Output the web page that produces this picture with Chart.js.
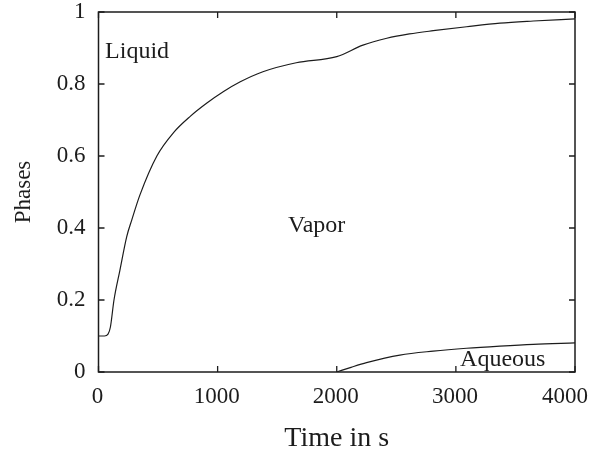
<!DOCTYPE html>
<html>
<head>
<meta charset="utf-8">
<script src="https://cdn.jsdelivr.net/npm/chart.js@4/dist/chart.umd.min.js"></script>
<style>
  html, body { margin: 0; padding: 0; background: #fff; }
  #wrap { width: 593px; height: 455px; }
</style>
</head>
<body>
<div id="wrap"><canvas id="phases"></canvas></div>
<script>
// time in seconds and phase fractions
const liquidTimes = [0, 50, 80, 100, 130, 180, 237, 279, 348, 490, 630, 770, 910, 1050, 1190, 1380, 1660, 2000, 2220, 2420, 2610, 2810, 3090, 3370, 3650, 4000];
const liquidValues = [0.1, 0.1, 0.105, 0.125, 0.2, 0.283, 0.376, 0.422, 0.492, 0.6, 0.665, 0.71, 0.747, 0.779, 0.806, 0.834, 0.859, 0.876, 0.908, 0.927, 0.939, 0.948, 0.959, 0.969, 0.975, 0.981];
// aqueous phase stays at zero (on the x axis) until 2000 s
const aqueousTimes = [2000, 2120, 2250, 2530, 2810, 3090, 3370, 3650, 4000];
const aqueousValues = [0, 0.013, 0.026, 0.047, 0.058, 0.066, 0.072, 0.077, 0.081];
const xTicks = [0, 1000, 2000, 3000, 4000];
const yTicks = [0, 0.2, 0.4, 0.6, 0.8, 1];
const phaseNames = ['Liquid', 'Vapor', 'Aqueous'];

const ink = '#1c1c1c';
const serif = 'Liberation Serif, "DejaVu Serif", serif';

const toPoints = (xs, ys) => xs.map((x, i) => ({ x: x, y: ys[i] }));

// gnuplot-like frame with inward ticks on all four sides, x labels and phase labels
const framePlugin = {
  id: 'frame',
  afterDatasetsDraw(chart) {
    const { ctx, chartArea: a, scales: { x, y }, width } = chart;
    ctx.save();
    ctx.strokeStyle = ink;
    ctx.lineWidth = 1.3;
    ctx.beginPath();
    xTicks.forEach(v => {
      const px = x.getPixelForValue(v);
      ctx.moveTo(px, a.bottom); ctx.lineTo(px, a.bottom - 6);
      ctx.moveTo(px, a.top); ctx.lineTo(px, a.top + 6);
    });
    yTicks.forEach(v => {
      const py = y.getPixelForValue(v);
      ctx.moveTo(a.left, py); ctx.lineTo(a.left + 6, py);
      ctx.moveTo(a.right, py); ctx.lineTo(a.right - 6, py);
    });
    ctx.stroke();
    ctx.lineWidth = 1.5;
    ctx.strokeRect(a.left, a.top, a.right - a.left, a.bottom - a.top);

    ctx.fillStyle = ink;
    ctx.textBaseline = 'middle';

    // x tick labels, kept inside the canvas at the right edge
    ctx.font = '23px ' + serif;
    ctx.textAlign = 'center';
    xTicks.forEach(v => {
      const label = String(v);
      const w = ctx.measureText(label).width;
      const cx = Math.min(x.getPixelForValue(v) - 1, width - 5 - w / 2);
      ctx.fillText(label, cx, a.bottom + 25);
    });

    ctx.font = '24px ' + serif;
    ctx.textAlign = 'left';
    const spots = [[55, 0.89], [1591, 0.405], [3035, 0.033]];
    phaseNames.forEach((name, i) => {
      ctx.fillText(name, x.getPixelForValue(spots[i][0]), y.getPixelForValue(spots[i][1]));
    });
    ctx.restore();
  }
};

new Chart(document.getElementById('phases'), {
  type: 'line',
  data: {
    datasets: [
      {
        label: phaseNames[0],
        data: toPoints(liquidTimes, liquidValues),
        borderColor: ink,
        borderWidth: 1.2,
        pointRadius: 0,
        cubicInterpolationMode: 'monotone',
        fill: false
      },
      {
        label: phaseNames[2],
        data: toPoints(aqueousTimes, aqueousValues),
        borderColor: ink,
        borderWidth: 1.2,
        pointRadius: 0,
        cubicInterpolationMode: 'monotone',
        fill: false
      }
    ]
  },
  options: {
    responsive: true,
    maintainAspectRatio: false,
    animation: false,
    devicePixelRatio: 1,
    layout: { padding: { top: 12, right: 18, left: 0, bottom: 0 } },
    plugins: {
      legend: { display: false },
      tooltip: { enabled: false }
    },
    scales: {
      x: {
        type: 'linear',
        min: 0,
        max: 4000,
        afterBuildTicks: s => { s.ticks = xTicks.map(v => ({ value: v })); },
        afterFit: s => {
          s.height = 83;
          s.paddingLeft = 0;
          s.paddingRight = 0;
        },
        grid: { display: false, drawTicks: false },
        border: { display: false },
        ticks: { display: false },
        title: {
          display: true,
          text: 'Time in s',
          color: ink,
          font: { family: serif, size: 28 },
          padding: { top: 0, bottom: 0 }
        }
      },
      y: {
        min: 0,
        max: 1,
        afterBuildTicks: s => { s.ticks = yTicks.map(v => ({ value: v })); },
        afterFit: s => {
          s.width = 98.5;
          s.paddingTop = 0;
          s.paddingBottom = 0;
        },
        grid: { display: false, drawTicks: false },
        border: { display: false },
        ticks: {
          color: ink,
          font: { family: serif, size: 23 },
          padding: 13,
          callback: v => String(v)
        },
        title: {
          display: true,
          text: 'Phases',
          color: ink,
          font: { family: serif, size: 23 },
          padding: { top: 10, bottom: 0 }
        }
      }
    }
  },
  plugins: [framePlugin]
});
</script>
</body>
</html>
